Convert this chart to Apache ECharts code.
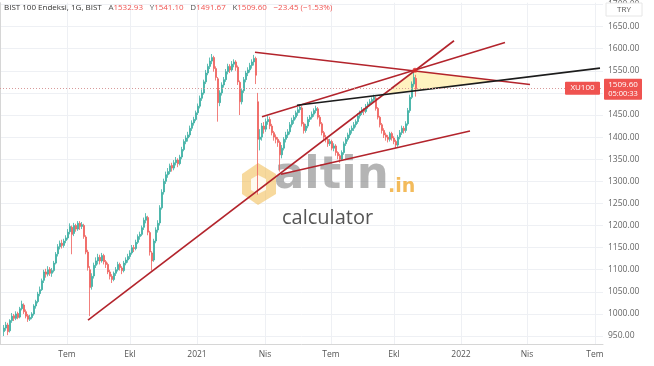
<!DOCTYPE html>
<html><head><meta charset="utf-8">
<script src="https://cdn.jsdelivr.net/npm/echarts@6/dist/echarts.min.js"></script>
<style>html,body{margin:0;padding:0;background:#fff}#c{width:654px;height:366px}</style>
</head><body><div id="c"></div><script>
// x unit = trading-day index on the chart's bar scale
const barStart = 4, barStep = 2;
// [open, close, low, high]
const ohlc = [
[960,968,950,975],[968,975,962,982],[975,960,952,980],[962,985,958,988],[985,995,980,1002],
[996,990,984,1000],[990,1000,986,1006],[1001,992,988,1005],[993,1012,990,1016],[1012,1022,1008,1030],
[1020,1005,1000,1024],[1005,995,990,1010],[996,988,982,1000],[988,992,984,998],[992,1000,988,1004],
[1000,1018,996,1022],[1018,1028,1012,1032],[1028,1045,1024,1050],[1046,1055,1040,1062],[1055,1075,1052,1080],
[1076,1095,1070,1100],[1095,1090,1082,1102],[1090,1100,1085,1108],[1101,1092,1086,1106],[1092,1098,1084,1104],
[1098,1115,1094,1120],[1115,1135,1112,1140],[1136,1152,1130,1158],[1152,1160,1146,1166],[1160,1155,1148,1168],
[1155,1165,1150,1170],[1166,1172,1160,1178],[1172,1185,1168,1192],[1186,1198,1180,1205],[1196,1180,1135,1200],
[1182,1200,1176,1206],[1200,1192,1186,1204],[1192,1205,1188,1210],[1205,1198,1190,1210],[1198,1202,1192,1208],
[1200,1175,1170,1204],[1174,1140,1135,1178],[1140,1105,1098,1145],[1100,1060,995,1108],[1062,1085,1055,1092],
[1086,1110,1080,1116],[1110,1120,1104,1128],[1120,1128,1112,1136],[1128,1120,1112,1134],[1120,1132,1116,1138],
[1132,1118,1112,1136],[1118,1112,1104,1122],[1112,1095,1090,1116],[1095,1085,1078,1100],[1085,1078,1070,1090],
[1078,1092,1074,1096],[1092,1100,1086,1106],[1100,1112,1096,1118],[1112,1105,1098,1116],[1104,1098,1090,1108],
[1098,1115,1094,1120],[1115,1122,1110,1128],[1122,1130,1116,1136],[1130,1138,1124,1144],[1138,1150,1134,1156],
[1150,1148,1140,1156],[1148,1162,1144,1168],[1162,1175,1158,1180],[1175,1180,1168,1186],[1180,1195,1176,1200],
[1196,1212,1190,1218],[1212,1220,1205,1228],[1218,1185,1178,1222],[1184,1140,1132,1188],[1138,1120,1098,1142],
[1122,1165,1118,1170],[1165,1190,1160,1196],[1190,1205,1184,1212],[1206,1240,1200,1246],[1240,1275,1236,1282],
[1276,1300,1270,1306],[1300,1315,1294,1322],[1315,1322,1308,1330],[1322,1335,1316,1340],[1336,1330,1322,1342],
[1330,1342,1325,1348],[1342,1348,1336,1355],[1348,1340,1332,1352],[1340,1355,1336,1360],[1355,1372,1350,1378],
[1372,1390,1368,1395],[1390,1398,1384,1404],[1398,1405,1390,1412],[1405,1420,1400,1426],[1420,1432,1414,1438],
[1432,1440,1426,1446],[1440,1455,1436,1460],[1455,1470,1450,1476],[1470,1488,1465,1494],[1488,1500,1482,1508],
[1500,1525,1496,1530],[1525,1545,1520,1552],[1545,1560,1540,1566],[1560,1572,1554,1580],[1572,1580,1565,1588],
[1580,1555,1548,1584],[1555,1535,1528,1560],[1532,1478,1435,1536],[1478,1500,1470,1506],[1500,1518,1494,1524],
[1518,1530,1512,1536],[1530,1548,1525,1554],[1548,1560,1542,1566],[1560,1552,1545,1565],[1552,1565,1548,1572],
[1565,1570,1558,1576],[1570,1558,1550,1574],[1558,1525,1518,1562],[1524,1480,1450,1528],[1480,1505,1474,1510],
[1505,1530,1500,1536],[1530,1545,1524,1550],[1545,1552,1538,1558],[1552,1562,1546,1568],[1562,1570,1555,1576],
[1570,1578,1562,1586],[1578,1540,1520,1582],[1480,1395,1270,1500],[1395,1400,1370,1418],[1400,1425,1392,1432],
[1425,1418,1408,1434],[1418,1435,1412,1442],[1435,1440,1428,1448],[1440,1425,1418,1446],[1425,1410,1404,1430],
[1410,1400,1392,1414],[1400,1395,1386,1406],[1395,1388,1378,1400],[1388,1360,1322,1392],[1360,1375,1352,1382],
[1375,1395,1370,1400],[1395,1405,1388,1412],[1405,1412,1398,1418],[1412,1428,1406,1434],[1428,1438,1422,1444],
[1438,1445,1430,1450],[1445,1455,1440,1460],[1455,1462,1448,1468],[1462,1468,1455,1473],[1466,1430,1424,1470],
[1430,1415,1408,1434],[1415,1425,1410,1430],[1425,1440,1420,1446],[1440,1445,1434,1450],[1445,1452,1440,1458],
[1452,1460,1446,1465],[1460,1465,1454,1471],[1464,1445,1440,1468],[1445,1430,1424,1450],[1430,1410,1404,1434],
[1410,1400,1394,1414],[1400,1395,1388,1405],[1395,1385,1378,1398],[1385,1390,1380,1396],[1390,1375,1370,1394],
[1375,1380,1368,1386],[1380,1365,1358,1384],[1365,1358,1350,1368],[1358,1350,1342,1362],[1350,1365,1346,1370],
[1365,1385,1360,1390],[1385,1395,1380,1400],[1395,1405,1390,1410],[1405,1415,1398,1420],[1415,1420,1408,1426],
[1420,1428,1414,1434],[1428,1435,1422,1440],[1435,1448,1430,1454],[1448,1455,1442,1460],[1455,1462,1450,1468],
[1462,1458,1450,1466],[1458,1470,1454,1475],[1470,1475,1464,1480],[1475,1480,1470,1486],[1480,1485,1474,1490],
[1485,1490,1478,1496],[1488,1465,1460,1492],[1465,1445,1440,1468],[1445,1428,1422,1448],[1428,1415,1408,1432],
[1415,1405,1398,1420],[1405,1400,1392,1410],[1400,1395,1388,1405],[1395,1408,1390,1412],[1408,1398,1392,1412],
[1398,1390,1384,1402],[1390,1382,1375,1394],[1382,1400,1378,1405],[1400,1410,1395,1416],[1410,1420,1405,1426],
[1420,1415,1408,1425],[1415,1430,1410,1436],[1430,1460,1426,1466],[1460,1490,1455,1496],[1490,1520,1486,1526],
[1520,1535,1514,1550],[1532.93,1509.60,1491.67,1541.10]
];
const xTickPos = [67,130,197,265,331,394,461,527,595];
const xTickText = ['Tem','Ekl','2021','Nis','Tem','Ekl','2022','Nis','Tem'];
const yTicks = [950,1000,1050,1100,1150,1200,1250,1300,1350,1400,1450,1500,1550,1600,1650,1700];
const lastPrice = 1509.60;
const header = {name:'BIST 100 Endeksi, 1G, BIST', o:'1532.93', h:'1541.10', l:'1491.67', c:'1509.60', chg:'\u221223.45 (\u22121.53%)'};
// drawn trend lines: [[bar, price],[bar, price]]
const redLines = [
  [[88,986],[454,1618]],
  [[262,1446],[505,1614]],
  [[281,1316],[470,1414]],
  [[255,1592],[530,1519]]
];
const blackLine = [[297,1472],[600,1556]];
const triangle = [[387,1497.5],[415,1551],[500,1527]];
const apex = [415,1551];

const candleData = ohlc.map((d,i)=>[barStart+i*barStep, d[0], d[1], d[2], d[3]]);
const chart = echarts.init(document.getElementById('c'), null, {renderer:'canvas'});
const gridCol = '#eef0f4';
const series = [
  {type:'custom', z:1, data:[triangle[0]], renderItem:(p,api)=>({
      type:'polygon', shape:{points:triangle.map(t=>api.coord(t))},
      style:{fill:'rgba(255,232,140,0.55)', stroke:null}})},
  {type:'candlestick', z:3, barWidth:1.4, data:candleData, encode:{x:0,y:[1,2,3,4]},
    itemStyle:{color:'#3aaea2', color0:'#ef5f5c', borderColor:'#3aaea2', borderColor0:'#ef5f5c', borderWidth:0.8},
    markLine:{symbol:'none', silent:true, animation:false,
      lineStyle:{color:'#d89a9a', type:[1,2], width:1}, label:{show:false},
      data:[{yAxis:lastPrice}]}
  },
  ...redLines.map(l=>({type:'line', z:4, data:l, symbol:'none', lineStyle:{color:'#b3242c', width:1.6}, animation:false})),
  {type:'line', z:4, data:blackLine, symbol:'none', lineStyle:{color:'#1c1c1c', width:1.6}, animation:false},
  {type:'scatter', z:5, data:[apex], symbolSize:5, itemStyle:{color:'#d92b2b'}}
];
chart.setOption({
  animation:false,
  backgroundColor:'#fff',
  grid:{left:0, right:51, top:0, bottom:22},
  xAxis:{type:'value', min:0, max:603,
    axisLine:{show:true, lineStyle:{color:'#d6d6d6'}},
    axisTick:{show:false, customValues:xTickPos},
    splitLine:{show:true, lineStyle:{color:gridCol}},
    axisLabel:{customValues:xTickPos, color:'#555', fontSize:8.5, fontFamily:'Open Sans', margin:6,
      formatter:v=>xTickText[xTickPos.indexOf(v)] || ''}
  },
  yAxis:{type:'value', position:'right', min:932, max:1704, scale:true,
    axisLine:{show:true, lineStyle:{color:'#d6d6d6'}},
    axisTick:{show:false, customValues:yTicks},
    splitLine:{show:true, lineStyle:{color:gridCol}},
    axisLabel:{customValues:yTicks, color:'#666', fontSize:8.5, fontFamily:'Open Sans', margin:5,
      formatter:v=>v.toFixed(2)}
  },
  series
});
const yPix = chart.convertToPixel({yAxisIndex:0}, lastPrice);
chart.setOption({graphic:[
  {type:'text', left:4, top:2, z:100, style:{
    text:`{n|${header.name}}  {k|A}{v|${header.o}}  {k|Y}{v|${header.h}}  {k|D}{v|${header.l}}  {k|K}{v|${header.c}}  {v|${header.chg}}`,
    rich:{n:{fill:'#333',fontSize:8,fontFamily:'Open Sans'},k:{fill:'#555',fontSize:8,fontFamily:'Open Sans'},v:{fill:'#ef5350',fontSize:8,fontFamily:'Open Sans'}}}},
  {type:'rect', shape:{x:606, y:3, width:36, height:13}, style:{fill:'#fff', stroke:'#e6e6e6'}, z:100},
  {type:'text', x:624, y:10, z:101, style:{text:'TRY', fill:'#555', fontSize:8, fontFamily:'Open Sans', align:'center', verticalAlign:'middle'}},
  {type:'rect', shape:{x:565, y:yPix-7, width:35, height:13, r:1}, style:{fill:'#ef5350'}, z:100},
  {type:'text', x:582.5, y:yPix-0.5, z:101, style:{text:'XU100', fill:'#fff', fontSize:8, fontFamily:'Open Sans', align:'center', verticalAlign:'middle'}},
  {type:'rect', shape:{x:604, y:yPix-10, width:38, height:21, r:1}, style:{fill:'#ef5350'}, z:100},
  {type:'text', x:623, y:yPix-4, z:101, style:{text:'1509.60', fill:'#fff', fontSize:8, fontFamily:'Open Sans', align:'center', verticalAlign:'middle'}},
  {type:'text', x:623, y:yPix+5, z:101, style:{text:'05:00:33', fill:'#fff', fontSize:7.5, fontFamily:'Open Sans', align:'center', verticalAlign:'middle'}},
  // watermark
  {type:'group', z:50, children:[
    {type:'polygon', shape:{points:[[242,174],[258,163],[276,174],[276,194],[258,205],[242,194]]}, style:{fill:'rgba(240,180,60,0.5)'}},
    {type:'polygon', shape:{points:[[251,179],[258,175],[266,179],[266,190],[258,194],[251,190]]}, style:{fill:'rgba(255,255,255,0.85)'}},
    {type:'text', x:274, y:199, style:{text:'altin', fill:'rgba(130,130,130,0.6)', fontSize:45, fontWeight:'bold', fontFamily:'DejaVu Sans', verticalAlign:'bottom'}},
    {type:'text', x:388, y:197, style:{text:'.in', fill:'rgba(240,170,50,0.8)', fontSize:19, fontWeight:'bold', fontFamily:'DejaVu Sans', verticalAlign:'bottom'}},
    {type:'text', x:282, y:218, style:{text:'calculator', fill:'#555', fontSize:20, fontFamily:'Open Sans', verticalAlign:'middle'}}
  ]}
]});
</script></body></html>
